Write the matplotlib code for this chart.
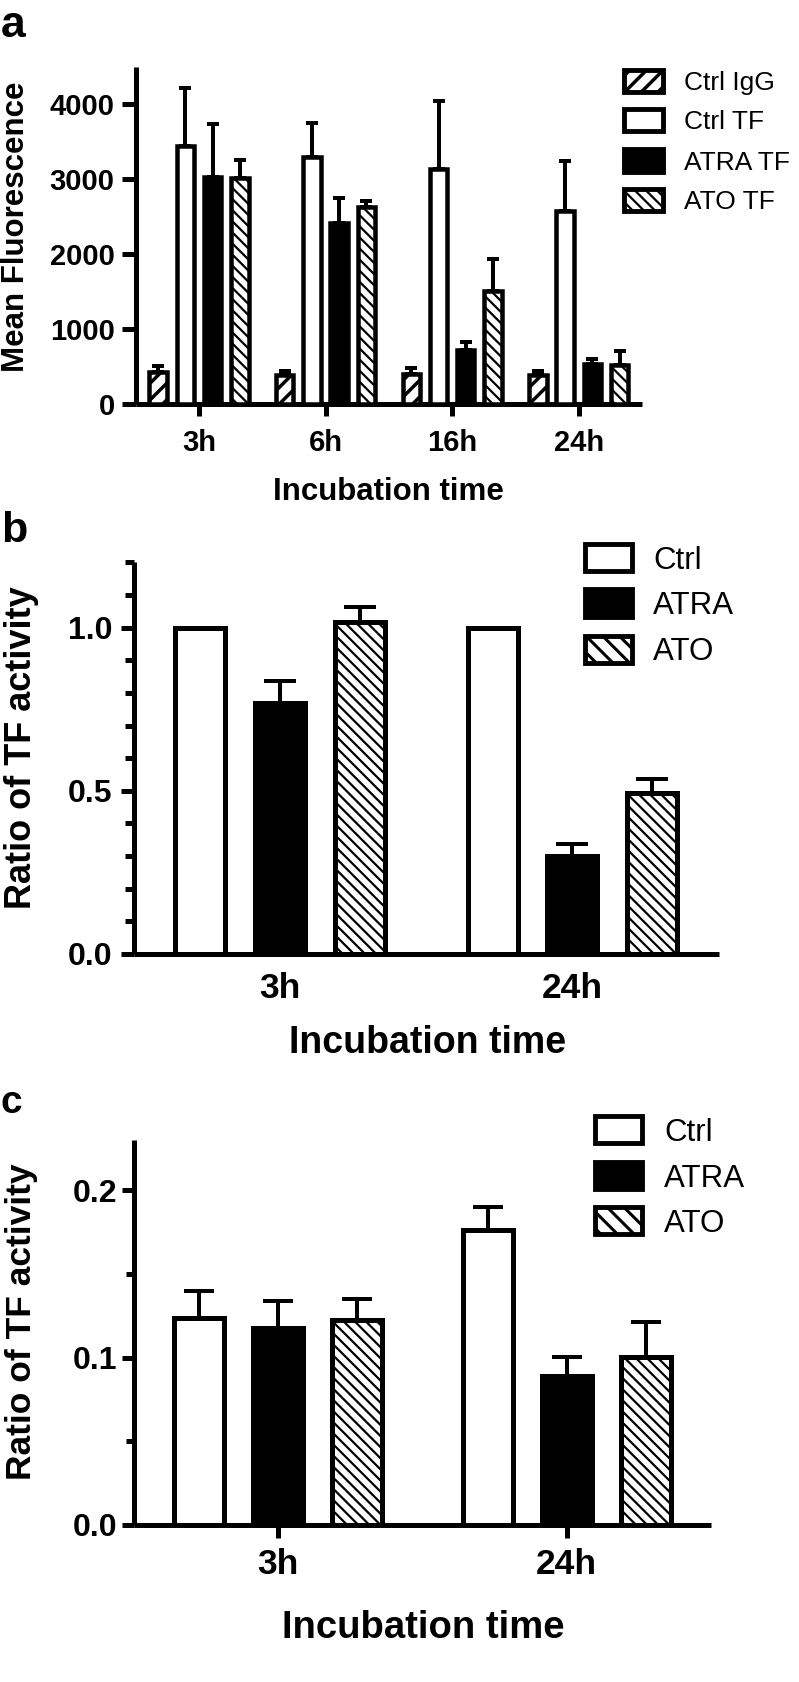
import numpy as np
import matplotlib
matplotlib.use("Agg")
import matplotlib.pyplot as plt
from matplotlib.patches import Rectangle
from matplotlib.ticker import MultipleLocator

plt.rcParams['font.family'] = ['Liberation Sans', 'DejaVu Sans']

# ---------------- data ----------------
times_a = ['3h', '6h', '16h', '24h']
series_a = ['Ctrl IgG', 'Ctrl TF', 'ATRA TF', 'ATO TF']
ctrl_igg = [430, 386, 404, 391]
ctrl_igg_err = [80, 62, 80, 53]
ctrl_tf = [3448, 3293, 3133, 2577]
ctrl_tf_err = [772, 462, 911, 667]
atra_tf = [3035, 2422, 724, 533]
atra_tf_err = [702, 333, 111, 67]
ato_tf = [3020, 2635, 1511, 520]
ato_tf_err = [237, 76, 422, 191]

times_bc = ['3h', '24h']
series_bc = ['Ctrl', 'ATRA', 'ATO']
b_ctrl = [1.0, 1.0]
b_ctrl_err = [0.0, 0.0]
b_atra = [0.769, 0.300]
b_atra_err = [0.066, 0.037]
b_ato = [1.017, 0.494]
b_ato_err = [0.046, 0.043]

c_ctrl = [0.1234, 0.1765]
c_ctrl_err = [0.0165, 0.0135]
c_atra = [0.1178, 0.089]
c_atra_err = [0.0161, 0.0115]
c_ato = [0.1224, 0.1005]
c_ato_err = [0.0129, 0.0209]

# ---------------- figure ----------------
W, H = 799, 1682
fig = plt.figure(figsize=(W / 100, H / 100), dpi=100)
PX = 72 / 100  # points per pixel


def rect(l, t, r, b):
    return [l / W, 1 - b / H, (r - l) / W, (b - t) / H]


def style_axes(ax, ytick_fs, xtick_fs, ylen, ypad, xlen, xpad, minor_len=None):
    for s in ['top', 'right']:
        ax.spines[s].set_visible(False)
    for s in ['left', 'bottom']:
        ax.spines[s].set_linewidth(5 * PX)
        ax.spines[s].set_capstyle('butt')
    ax.tick_params(axis='y', which='major', length=ylen * PX, width=5 * PX,
                   pad=ypad * PX, labelsize=ytick_fs)
    ax.tick_params(axis='x', which='major', length=xlen * PX, width=5 * PX,
                   pad=xpad * PX, labelsize=xtick_fs)
    if minor_len is not None:
        ax.tick_params(axis='y', which='minor', length=minor_len * PX, width=5 * PX)
    for lab in ax.get_xticklabels() + ax.get_yticklabels():
        lab.set_fontweight('bold')


def grouped(ax, vals_list, err_list, styles, stride, width, edge_lw, capsize, elw):
    n_series = len(vals_list)
    for i, (vals, errs, st) in enumerate(zip(vals_list, err_list, styles)):
        fc, hatch, hlw = st
        x = np.arange(len(vals)) + (i - (n_series - 1) / 2) * stride
        with plt.rc_context({'hatch.linewidth': hlw}):
            bars = ax.bar(x, vals, width, color=fc, edgecolor='black',
                          linewidth=edge_lw, hatch=hatch, zorder=3)
        for p in bars:
            if hasattr(p, 'set_hatch_linewidth'):
                p.set_hatch_linewidth(hlw)
        errs = np.asarray(errs, dtype=float)
        m = errs > 0
        if m.any():
            v = np.asarray(vals, dtype=float)
            ax.errorbar(x[m], v[m], yerr=[np.zeros(m.sum()), errs[m]], fmt='none',
                        ecolor='black', elinewidth=elw, capsize=capsize,
                        capthick=elw, zorder=2)


def legend_item(x0, y0, x1, y1, fc, hatch, hlw, label, tx, fs, lw_pt=3.5):
    lw_px = lw_pt / PX
    with plt.rc_context({'hatch.linewidth': hlw}):
        r = Rectangle(((x0 + lw_px / 2) / W, 1 - (y1 - lw_px / 2) / H),
                      (x1 - x0 - lw_px) / W, (y1 - y0 - lw_px) / H,
                      transform=fig.transFigure, facecolor=fc, edgecolor='black',
                      linewidth=lw_pt, hatch=hatch)
    if hasattr(r, 'set_hatch_linewidth'):
        r.set_hatch_linewidth(hlw)
    fig.add_artist(r)
    cap = fs / PX * 0.716
    yc = (y0 + y1) / 2
    fig.text(tx / W, 1 - (yc + cap / 2) / H, label, fontsize=fs, va='baseline', ha='left')


def ylabel(x_base, y_center, text, fs):
    fig.text(x_base / W, 1 - y_center / H, text, rotation=90, rotation_mode='anchor',
             fontsize=fs, fontweight='bold', ha='center', va='baseline')


# ---------------- panel a ----------------
ax_a = fig.add_axes(rect(135.7, 66.7, 642, 404.3))
styles_a = [('white', '//', 2.5), ('white', None, 1.0), ('black', None, 1.0), ('white', '\\\\\\', 1.6)]
grouped(ax_a, [ctrl_igg, ctrl_tf, atra_tf, ato_tf],
        [ctrl_igg_err, ctrl_tf_err, atra_tf_err, ato_tf_err],
        styles_a, stride=0.215, width=0.138, edge_lw=4.5 * PX, capsize=4.3, elw=4 * PX)
ax_a.set_xlim(-0.5, 3.5)
ax_a.set_ylim(0, 4500)
ax_a.set_yticks([0, 1000, 2000, 3000, 4000])
ax_a.set_xticks(np.arange(len(times_a)))
ax_a.set_xticklabels(times_a)
style_axes(ax_a, 21, 21, ylen=14, ypad=7, xlen=12, xpad=13)

ylabel(24, 227, 'Mean Fluorescence', 22.5)
fig.text(388.6 / W, 1 - 500 / H, 'Incubation time', fontsize=22.5, fontweight='bold',
         ha='center', va='baseline')
fig.text(1 / W, 1 - 37.3 / H, 'a', fontsize=32, fontweight='bold', ha='left', va='baseline')

legend_a = [((621.7, 67.7, 665.7, 94), 'white', '//', 2.5),
            ((621.7, 107, 665.7, 133), 'white', None, 1.0),
            ((621.7, 146.7, 665.7, 174), 'black', None, 1.0),
            ((621.7, 186.7, 665.7, 213), 'white', '\\\\\\', 1.6)]
for (box, fc, h, hlw), lab in zip(legend_a, series_a):
    legend_item(*box, fc, h, hlw, lab, 684, 19)

# ---------------- panel b ----------------
ax_b = fig.add_axes(rect(133.5, 562.3, 718.7, 954))
styles_bc = [('white', None, 1.0), ('black', None, 1.0), ('white', '\\\\\\', 1.6)]
grouped(ax_b, [b_ctrl, b_atra, b_ato], [b_ctrl_err, b_atra_err, b_ato_err],
        styles_bc, stride=0.273, width=0.171, edge_lw=5 * PX, capsize=11.5, elw=4 * PX)
ax_b.set_xlim(-0.5, 1.5)
ax_b.set_ylim(0, 1.2)
ax_b.set_yticks([0, 0.5, 1.0])
ax_b.set_yticklabels(['0.0', '0.5', '1.0'])
ax_b.yaxis.set_minor_locator(MultipleLocator(0.1))
ax_b.set_xticks(np.arange(len(times_bc)))
ax_b.set_xticklabels(times_bc)
style_axes(ax_b, 23, 25.5, ylen=13.5, ypad=8, xlen=0, xpad=17.7, minor_len=9)

ylabel(31, 748, 'Ratio of TF activity', 26)
fig.text(428 / W, 1 - 1053 / H, 'Incubation time', fontsize=27, fontweight='bold',
         ha='center', va='baseline')
fig.text(1 / W, 1 - 542 / H, 'b', fontsize=31, fontweight='bold', ha='left', va='baseline')

legend_bc_b = [((583, 541.7, 634, 573.3), 'white', None, 1.0),
               ((583, 586.7, 634, 619), 'black', None, 1.0),
               ((583, 633.3, 634, 665), 'white', '\\\\', 2.2)]
for (box, fc, h, hlw), lab in zip(legend_bc_b, series_bc):
    legend_item(*box, fc, h, hlw, lab, 653, 22.5)

# ---------------- panel c ----------------
ax_c = fig.add_axes(rect(133.5, 1140, 711, 1525))
grouped(ax_c, [c_ctrl, c_atra, c_ato], [c_ctrl_err, c_atra_err, c_ato_err],
        styles_bc, stride=0.2735, width=0.173, edge_lw=5 * PX, capsize=10.5, elw=4 * PX)
ax_c.set_xlim(-0.5, 1.5)
ax_c.set_ylim(0, 0.23)
ax_c.set_yticks([0, 0.1, 0.2])
ax_c.set_yticklabels(['0.0', '0.1', '0.2'])
ax_c.yaxis.set_minor_locator(MultipleLocator(0.05))
ax_c.set_xticks(np.arange(len(times_bc)))
ax_c.set_xticklabels(times_bc)
style_axes(ax_c, 23, 25.5, ylen=12, ypad=4, xlen=13, xpad=10, minor_len=8)

ylabel(31, 1322, 'Ratio of TF activity', 25.5)
fig.text(423 / W, 1 - 1638 / H, 'Incubation time', fontsize=27.5, fontweight='bold',
         ha='center', va='baseline')
fig.text(1 / W, 1 - 1113 / H, 'c', fontsize=28, fontweight='bold', ha='left', va='baseline')

legend_bc_c = [((593, 1114, 644, 1145.7), 'white', None, 1.0),
               ((593, 1160, 644, 1191), 'black', None, 1.0),
               ((593, 1205, 644, 1236.7), 'white', '\\\\', 2.2)]
for (box, fc, h, hlw), lab in zip(legend_bc_c, series_bc):
    legend_item(*box, fc, h, hlw, lab, 664, 22.5)

fig.savefig('out.png', dpi=100, facecolor='white')
